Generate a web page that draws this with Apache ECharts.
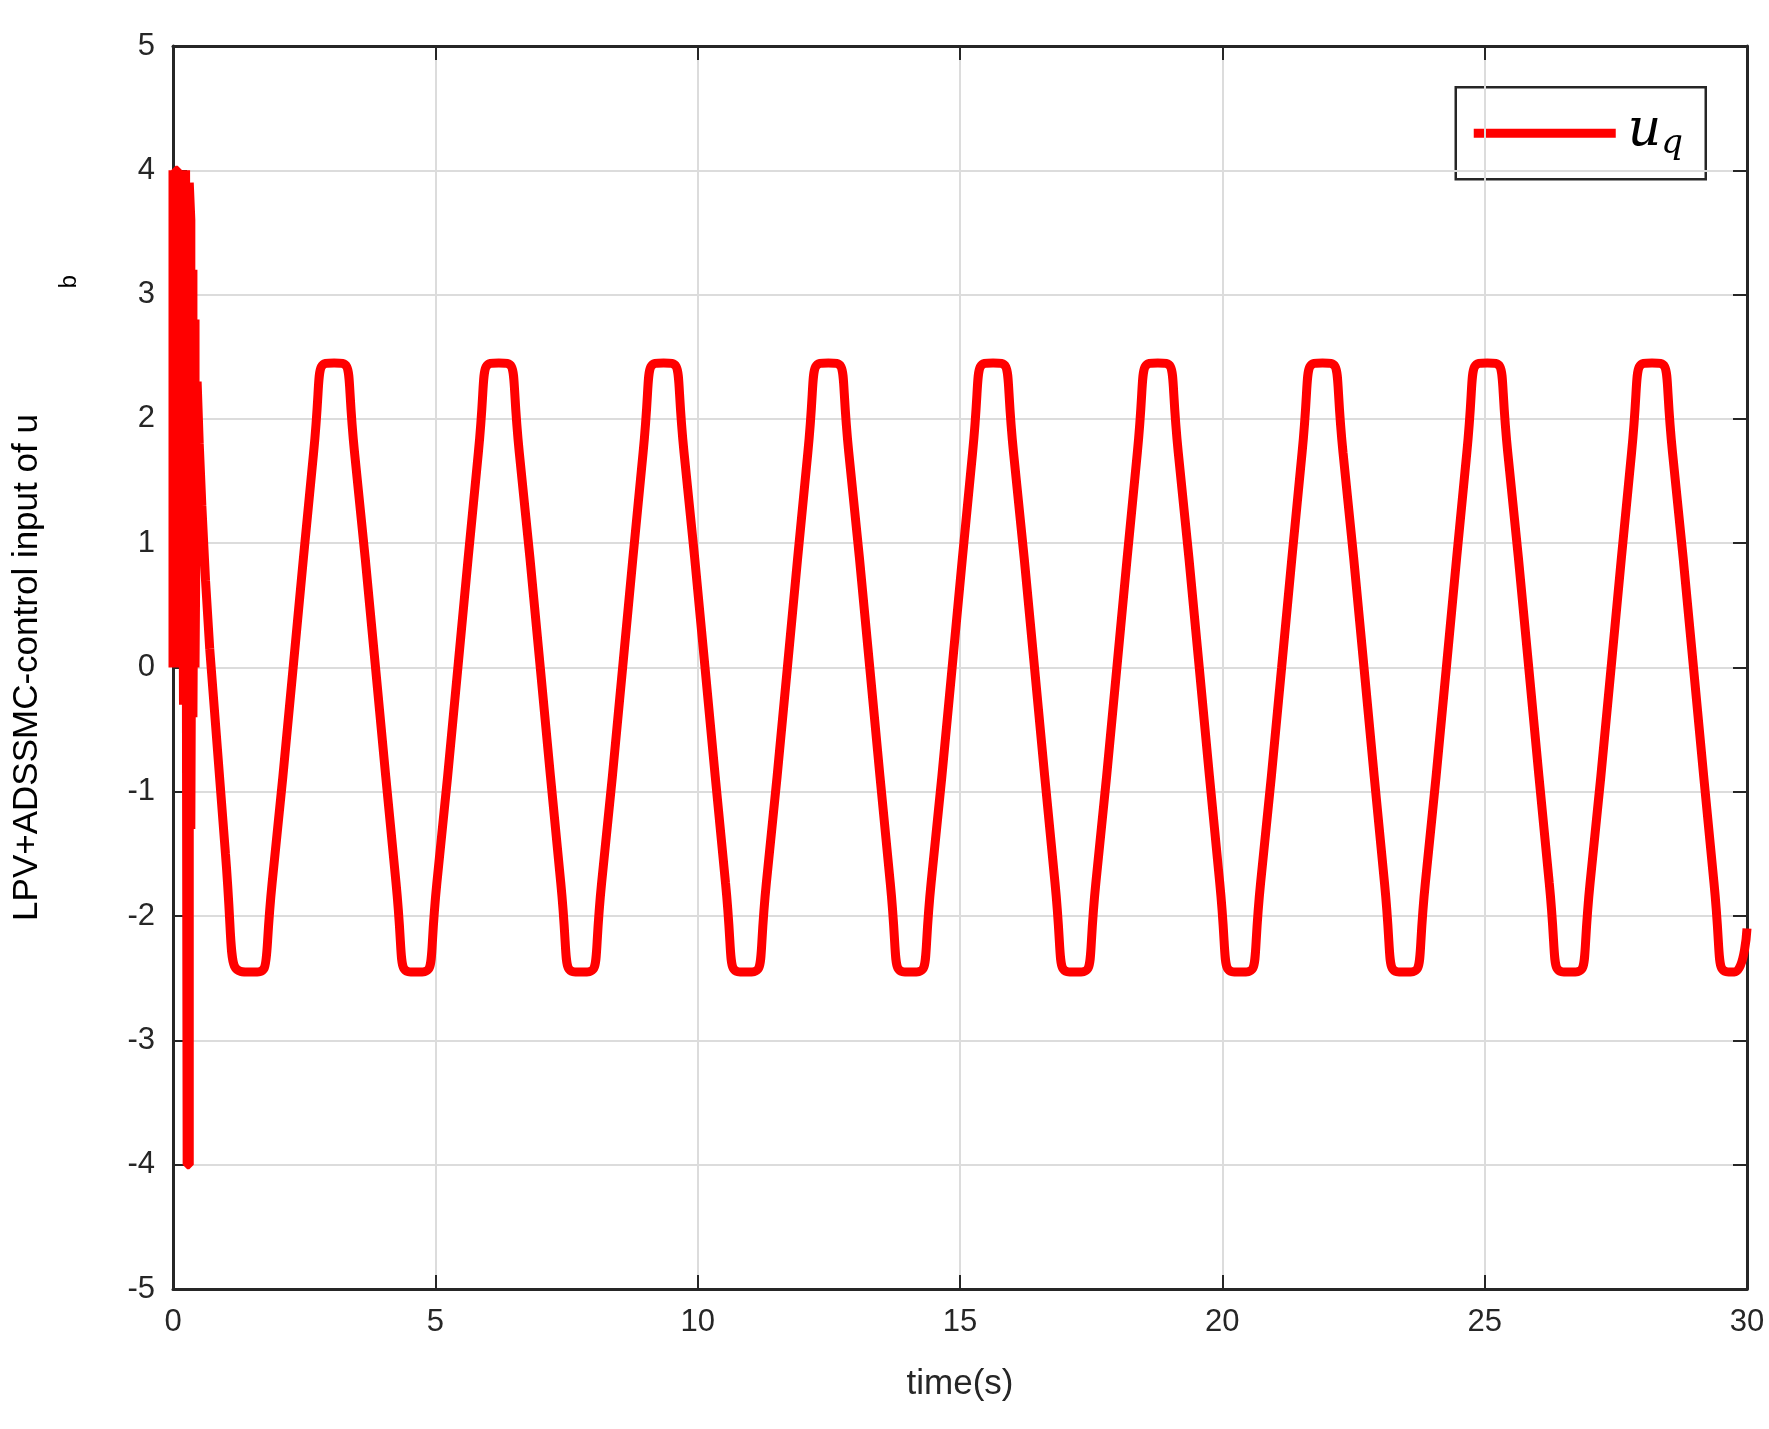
<!DOCTYPE html>
<html>
<head>
<meta charset="UTF-8">
<script src="https://cdn.jsdelivr.net/npm/echarts@6/dist/echarts.min.js"></script>
<style>html,body{margin:0;background:#fff}#chart{width:1769px;height:1429px}</style>
</head>
<body>
<div id="chart"></div>
<script>
// transient part (switching), drawn without smoothing
var transT = [0, 0, 0.02, 0.02, 0.05, 0.05, 0.09, 0.09, 0.13, 0.13, 0.17, 0.2, 0.2, 0.24, 0.27, 0.27, 0.31, 0.31, 0.34, 0.34, 0.38, 0.38, 0.42, 0.42, 0.46, 0.5, 0.55, 0.62, 0.7];
var transU = [0, 4, 4, 0, 0, 4, 4, 2.2, 4, 0, 4, 4, -0.3, 4, 4, -4, -4, 3.9, 3.6, -1.3, 3.2, -0.4, 2.8, 0, 2.3, 1.8, 1.3, 0.7, 0.15];
// steady oscillation
var mainT = [0.7, 1.0, 1.5, 1.89, 2.29, 2.68, 3.07, 3.46, 3.86, 4.25, 4.64, 5.03, 5.43, 5.82, 6.21, 6.60, 7.00, 7.39, 7.78, 8.17, 8.57, 8.96, 9.35, 9.74, 10.14, 10.53, 10.92, 11.31, 11.71, 12.10, 12.49, 12.88, 13.28, 13.67, 14.06, 14.45, 14.85, 15.24, 15.63, 16.02, 16.42, 16.81, 17.20, 17.59, 17.99, 18.38, 18.77, 19.16, 19.56, 19.95, 20.34, 20.73, 21.13, 21.52, 21.91, 22.30, 22.70, 23.09, 23.48, 23.87, 24.27, 24.66, 25.05, 25.44, 25.84, 26.23, 26.62, 27.01, 27.41, 27.80, 28.19, 28.58, 28.98, 29.37, 29.76, 30.0];
var mainU = [0.15, -1.5, -2.45, -1.73, 0, 1.73, 2.45, 1.73, 0, -1.73, -2.45, -1.73, 0, 1.73, 2.45, 1.73, 0, -1.73, -2.45, -1.73, 0, 1.73, 2.45, 1.73, 0, -1.73, -2.45, -1.73, 0, 1.73, 2.45, 1.73, 0, -1.73, -2.45, -1.73, 0, 1.73, 2.45, 1.73, 0, -1.73, -2.45, -1.73, 0, 1.73, 2.45, 1.73, 0, -1.73, -2.45, -1.73, 0, 1.73, 2.45, 1.73, 0, -1.73, -2.45, -1.73, 0, 1.73, 2.45, 1.73, 0, -1.73, -2.45, -1.73, 0, 1.73, 2.45, 1.73, 0, -1.73, -2.45, -2.1];

function pairs(a, b) { return a.map(function (v, i) { return [v, b[i]]; }); }

var font = 'Liberation Sans, Arial, sans-serif';
var axisCommon = {
    axisLine: { onZero: false, lineStyle: { color: '#262626', width: 3 } },
    axisTick: { inside: true, length: 14, lineStyle: { color: '#262626', width: 2 } },
    axisLabel: { color: '#262626', fontSize: 31, fontFamily: font, margin: 18 }
};
var chart = echarts.init(document.getElementById('chart'));
chart.setOption({
    animation: false,
    grid: { left: 173, right: 22, top: 46, bottom: 140 },
    xAxis: [
        Object.assign({ type: 'value', min: 0, max: 30, interval: 5, position: 'bottom',
            name: 'time(s)', nameLocation: 'middle', nameGap: 78,
            nameTextStyle: { color: '#262626', fontSize: 35, fontFamily: font },
            splitLine: { lineStyle: { color: '#dcdcdc', width: 2 } } }, axisCommon),
        Object.assign({}, axisCommon, { type: 'value', min: 0, max: 30, interval: 5, position: 'top',
            axisLabel: { show: false }, splitLine: { show: false } })
    ],
    yAxis: [
        Object.assign({ type: 'value', min: -5, max: 5, interval: 1, position: 'left',
            name: 'LPV+ADSSMC-control input of u', nameLocation: 'middle', nameGap: 128,
            nameTextStyle: { color: '#000', fontSize: 35, fontFamily: font },
            splitLine: { lineStyle: { color: '#dcdcdc', width: 2 } } }, axisCommon),
        Object.assign({}, axisCommon, { type: 'value', min: -5, max: 5, interval: 1, position: 'right',
            axisLabel: { show: false }, splitLine: { show: false } })
    ],
    graphic: [
        { type: 'text', left: 58, top: 275, rotation: -Math.PI / 2,
          style: { text: 'q', fill: '#000', fontSize: 24, fontFamily: font } },
        { type: 'group', right: 62, top: 86, children: [
            { type: 'rect', shape: { x: 0, y: 0, width: 250, height: 92 },
              style: { fill: '#fff', stroke: '#262626', lineWidth: 2.5 } },
            { type: 'line', shape: { x1: 18, y1: 46, x2: 160, y2: 46 },
              style: { stroke: '#ff0000', lineWidth: 9 } },
            { type: 'text', x: 172, y: 14,
              style: { text: '{u|u}{q|q}', rich: {
                  u: { fontSize: 52, fontStyle: 'italic', fontFamily: 'DejaVu Serif, serif', fill: '#000' },
                  q: { fontSize: 34, fontStyle: 'italic', fontFamily: 'DejaVu Serif, serif', fill: '#000', verticalAlign: 'bottom', padding: [26, 0, 0, 0] }
              } } }
        ] }
    ],
    series: [
        { type: 'line', data: pairs(transT, transU), showSymbol: false,
          lineStyle: { color: '#ff0000', width: 9 }, z: 3 },
        { type: 'line', data: pairs(mainT, mainU), showSymbol: false, smooth: 1,
          lineStyle: { color: '#ff0000', width: 9 }, z: 3 }
    ]
});
</script>
</body>
</html>
